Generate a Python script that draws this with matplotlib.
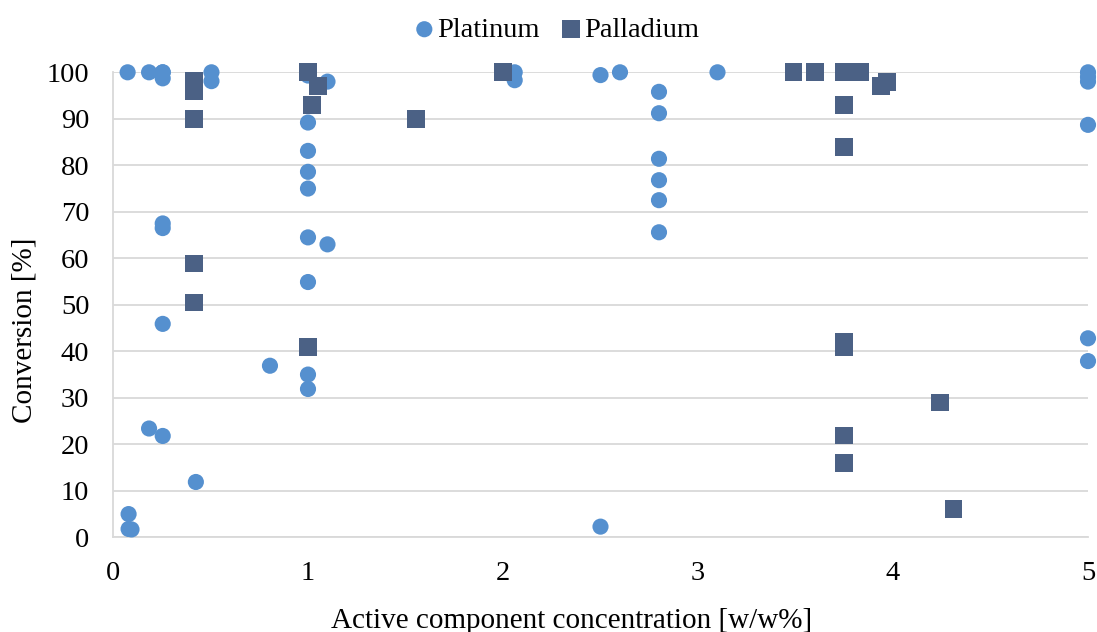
import matplotlib
matplotlib.use("Agg")
import matplotlib.pyplot as plt

plt.rcParams['font.family'] = ['Liberation Serif', 'DejaVu Serif']

# Platinum (circles)
pt_x = [0.075, 0.185, 0.255, 0.255, 0.255, 0.505, 0.505,
        1.0, 1.0, 1.0, 1.0, 1.0, 1.1,
        0.255, 0.255, 1.0, 1.1, 1.0, 0.255, 0.805, 1.0, 1.0,
        0.185, 0.255, 0.425, 0.08, 0.08, 0.095,
        2.06, 2.06, 2.5, 2.6, 3.1,
        2.8, 2.8, 2.8, 2.8, 2.8, 2.8, 2.5,
        5.0, 5.0, 5.0, 5.0, 5.0, 5.0]
pt_y = [100, 100, 100, 100, 98.7, 100, 98.1,
        99.3, 89.2, 83.1, 78.6, 75.0, 98.0,
        67.5, 66.5, 64.5, 63.0, 54.9, 45.9, 36.9, 35.0, 31.9,
        23.4, 21.8, 11.9, 5.0, 1.8, 1.7,
        100, 98.3, 99.4, 100, 100,
        95.8, 91.2, 81.4, 76.8, 72.5, 65.6, 2.3,
        100, 99.0, 98.0, 88.7, 42.8, 37.9]

# Palladium (squares)
pd_x = [0.415, 0.415, 0.415, 0.415, 0.415,
        1.0, 1.05, 1.02, 1.555, 1.0,
        2.0, 3.49, 3.6, 3.75, 3.83, 3.94, 3.97,
        3.75, 3.75, 3.75, 3.75, 4.24, 3.75, 3.75, 4.31]
pd_y = [98.2, 95.9, 90.0, 58.9, 50.5,
        100, 97.1, 93.0, 90.0, 41.0,
        100, 100, 100, 100, 100, 97.1, 98.0,
        93.0, 83.9, 42.0, 41.0, 29.0, 21.9, 15.9, 6.1]

x_ticks = [0, 1, 2, 3, 4, 5]
y_ticks = [0, 10, 20, 30, 40, 50, 60, 70, 80, 90, 100]

pt_color = '#5590CF'
pd_color = '#4B6185'
grid_color = '#D9D9D9'

fig = plt.figure(figsize=(10.97, 6.32), dpi=100)
ax = fig.add_axes([0.103, 0.1498, 0.8888, 0.7358])

ax.scatter(pt_x, pt_y, s=135, marker='o', color=pt_color, edgecolors='none',
           label='Platinum', zorder=3, clip_on=False)
ax.scatter(pd_x, pd_y, s=165, marker='s', color=pd_color, edgecolors='none',
           label='Palladium', zorder=4, clip_on=False)

ax.set_xlim(0, 5)
ax.set_ylim(0, 100)
ax.set_xticks(x_ticks)
ax.set_yticks(y_ticks)
ax.grid(axis='y', color=grid_color, linewidth=1.3, zorder=0)
ax.set_axisbelow(True)
for s in ['top', 'right']:
    ax.spines[s].set_visible(False)
for s in ['left', 'bottom']:
    ax.spines[s].set_color(grid_color)
    ax.spines[s].set_linewidth(1.3)
ax.tick_params(axis='both', length=0, labelsize=20.5, colors='black')
ax.tick_params(axis='y', pad=17)
ax.tick_params(axis='x', pad=17)
ax.set_xlabel('Active component concentration [w/w%]', fontsize=21)
ax.set_ylabel('Conversion [%]', fontsize=21)
ax.xaxis.set_label_coords(0.47, -0.151)
ax.yaxis.set_label_coords(-0.077, 0.445)

leg = fig.legend(loc='upper center', bbox_to_anchor=(0.508, 1.014), ncol=2, frameon=False,
                 fontsize=20.5, handlelength=0.6, handletextpad=0.15,
                 columnspacing=0.8, markerscale=1.0)

fig.savefig('out.png', dpi=100)
